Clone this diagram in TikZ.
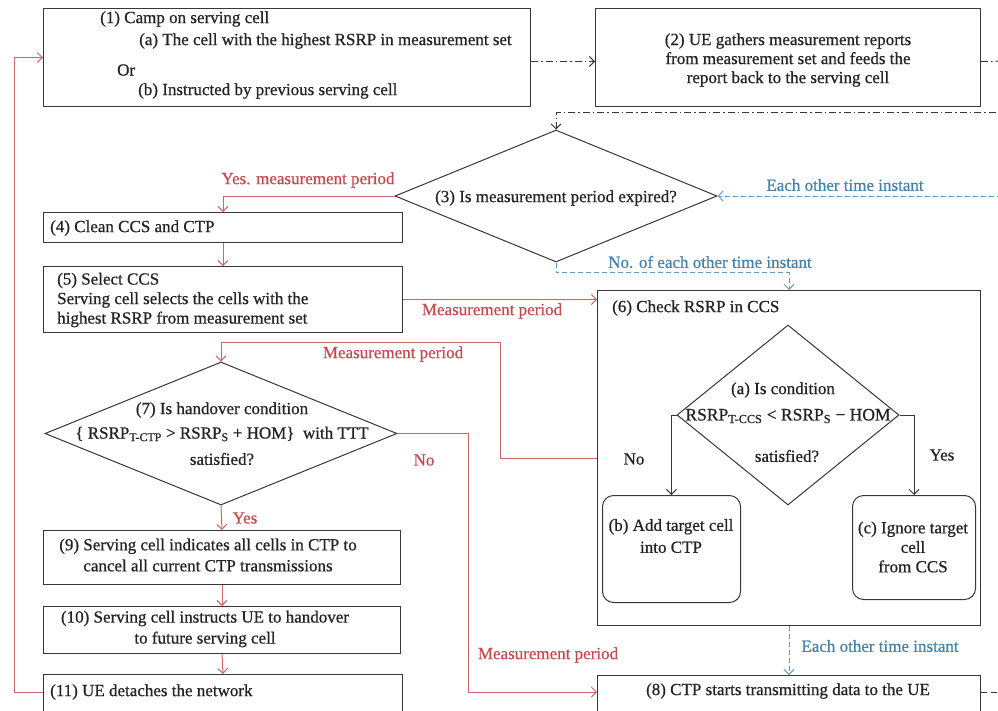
\documentclass[tikz,border=0pt]{standalone}
\usepackage{fontspec}
\setmainfont{Liberation Serif}[FakeBold=0.7]
\usetikzlibrary{arrows.meta,shapes.geometric,calc}

\definecolor{lineblack}{RGB}{55,55,55}
\definecolor{txtblack}{RGB}{35,35,35}
\definecolor{flowred}{RGB}{205,100,105}
\definecolor{labelred}{RGB}{195,75,80}
\definecolor{flowblue}{RGB}{100,150,195}
\definecolor{labelblue}{RGB}{70,130,170}

\tikzset{
  every node/.style={font=\fontsize{17}{19.5}\selectfont, text=txtblack, inner sep=0pt},
  box/.style={draw=lineblack, line width=1pt, rectangle, anchor=north west},
  rbox/.style={box, rounded corners=11pt},
  decision/.style={draw=lineblack, line width=1pt, diamond},
  tipped/.style={-{Straight Barb[length=5pt,width=10pt]}},
  redflow/.style={draw=flowred, line width=1pt, tipped},
  blackflow/.style={draw=lineblack, line width=1pt, tipped},
  blueflow/.style={draw=flowblue, line width=1pt, dash pattern=on 5pt off 3pt},
  dashdotline/.style={draw=lineblack, line width=1pt, dash pattern=on 7pt off 3pt on 1.5pt off 3pt},
  greydash/.style={draw=lineblack, line width=1pt, dash pattern=on 6pt off 4pt},
  redlabel/.style={text=labelred},
  bluelabel/.style={text=labelblue},
}

\begin{document}
\begin{tikzpicture}[x=1pt, y=-1pt]
\useasboundingbox (0,0) rectangle (998,710);
\clip (0,0) rectangle (998,710);

% ---------- boxes ----------
\node[box, minimum width=487pt, minimum height=98pt] (b1) at (43,8) {};
\node[box, minimum width=385pt, minimum height=98pt] (b2) at (595,8) {};
\node[box, minimum width=359pt, minimum height=30pt] (b4) at (43,212) {};
\node[box, minimum width=359pt, minimum height=66pt] (b5) at (43,266) {};
\node[box, minimum width=383pt, minimum height=335pt] (b6) at (597,290) {};
\node[rbox, minimum width=138pt, minimum height=107pt] (bb) at (602,495) {};
\node[rbox, minimum width=123pt, minimum height=104pt] (bc) at (852,495) {};
\node[box, minimum width=357pt, minimum height=54pt] (b9) at (43,530) {};
\node[box, minimum width=357pt, minimum height=47pt] (b10) at (43,606) {};
\node[box, minimum width=359pt, minimum height=50pt] (b11) at (43,674) {};
\node[box, minimum width=383pt, minimum height=50pt] (b8) at (597,675) {};

% ---------- decisions ----------
\node[decision, minimum width=322pt, minimum height=132pt] (d3) at (556,196) {};
\node[decision, minimum width=352pt, minimum height=143pt] (d7) at (221,433.5) {};
\node[decision, minimum width=222pt, minimum height=180pt] (da) at (788,415) {};

% ---------- texts ----------
\node[anchor=west] at (100,19) {(1) Camp on serving cell};
\node[anchor=west] at (139,41) {(a) The cell with the highest RSRP in measurement set};
\node[anchor=west] at (117,70) {Or};
\node[anchor=west] at (138,91) {(b) Instructed by previous serving cell};

\node[align=center, font=\fontsize{17}{19}\selectfont] at (788,60) {(2) UE gathers measurement reports\\from measurement set and feeds the\\report back to the serving cell};

\node at (556,198) {(3) Is measurement period expired?};

\node[anchor=west] at (50,228) {(4) Clean CCS and CTP};
\node[anchor=west, align=left] at (57,300) {(5) Select CCS\\Serving cell selects the cells with the\\highest RSRP from measurement set};

\node[anchor=west] at (612,308) {(6) Check RSRP in CCS};
\node at (783,390) {(a) Is condition};
\node[font=\fontsize{17.5}{19.5}\selectfont] at (788,416) {RSRP\textsubscript{T-CCS} < RSRP\textsubscript{S} − HOM};
\node at (787,456) {satisfied?};
\node[align=center, font=\fontsize{17}{22}\selectfont] at (671,536) {(b) Add target cell\\into CTP};
\node[align=center] at (913,547) {(c) Ignore target\\cell\\from CCS};

\node at (222,410) {(7) Is handover condition};
\node at (222,434) {\{ RSRP\textsubscript{T-CTP} > RSRP\textsubscript{S} + HOM\}\ \ with TTT};
\node at (222,459) {satisfied?};

\node[align=center, font=\fontsize{17}{21}\selectfont] at (208,555) {(9) Serving cell indicates all cells in CTP to\\cancel all current CTP transmissions};
\node[align=center, font=\fontsize{17}{21}\selectfont] at (205,629) {(10) Serving cell instructs UE to handover\\to future serving cell};
\node[anchor=west] at (50,692) {(11) UE detaches the network};
\node at (788,691) {(8) CTP starts transmitting data to the UE};

% ---------- connector labels ----------
\node[redlabel] at (308,180) {Yes. measurement period};
\node[redlabel] at (492,311) {Measurement period};
\node[redlabel] at (393,354) {Measurement period};
\node[redlabel] at (424,460) {No};
\node[redlabel] at (245,518) {Yes};
\node[redlabel] at (548,655) {Measurement period};
\node[bluelabel] at (845,185) {Each other time instant};
\node[bluelabel] at (710,262) {No. of each other time instant};
\node[bluelabel] at (880,646) {Each other time instant};
\node at (634,459) {No};
\node at (942,455) {Yes};

% ---------- connectors ----------
\coordinate (fbtop) at (1010,112);
\coordinate (fbblue) at (1010,196);
\coordinate (fbright) at (1010,61);
\coordinate (fbout) at (1010,692);
\coordinate (rturn) at (500,342);
\coordinate (rno) at (468,692);
\coordinate (rloop) at (14,692);

% report loop (dash-dot)
\draw[dashdotline, tipped] ([yshift=-4pt]b1.east) -- ([yshift=-4pt]b2.west);
\draw[dashdotline] ([yshift=-4pt]b2.east) -- (fbright);
\draw[dashdotline, tipped] (fbtop) -| (d3.north);

% each other time instant (blue dashed)
\draw[blueflow, tipped] (fbblue) -- (d3.east);
\draw[blueflow, tipped] (d3.south) -- ++(0,10) -| (b6.north);
\draw[blueflow, tipped] (b6.south) -- (b8.north);

% measurement period (red)
\draw[redflow] (d3.west) -| (b4.north);
\draw[redflow] (b4.south) -- (b5.north);
\draw[redflow] (b5.east) -- (b5.east -| b6.west);
\draw[redflow] (b6.west) -| (rturn) -| (d7.north);
\draw[redflow] (d7.east) -| (rno) -- (rno -| b8.west);
\draw[redflow] (d7.south) -- (b9.north);
\draw[redflow] (b9.south) -- (b10.north);
\draw[redflow] (b10.south) -- (b11.north);
\draw[redflow] (rloop -| b11.west) -- (rloop) |- (b1.west);

% inside check box
\draw[blackflow] (da.west) -| (bb.north);
\draw[blackflow] (da.east) -| (bc.north);

% data transmission continues
\draw[greydash] (b8.east |- fbout) -- (fbout);
\end{tikzpicture}
\end{document}
